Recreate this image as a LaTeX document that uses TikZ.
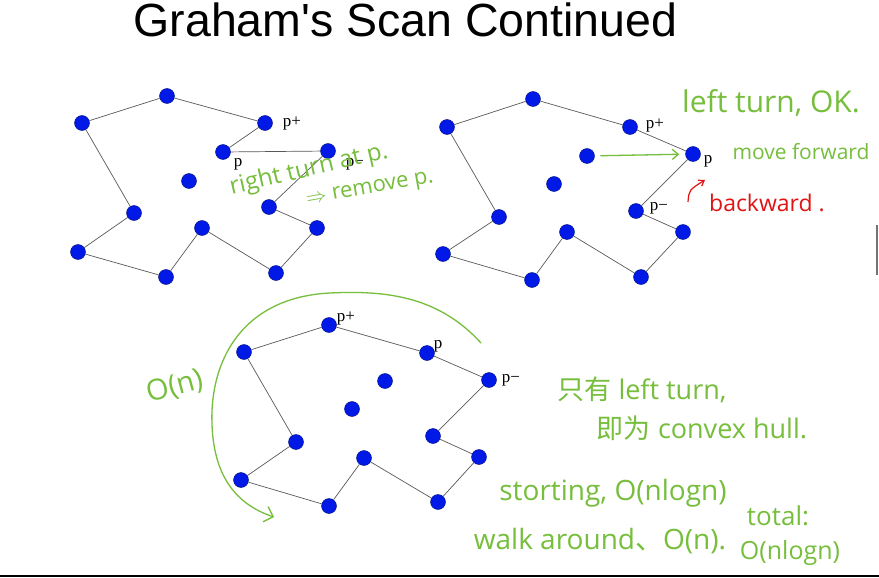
\documentclass[tikz,border=0pt]{standalone}
\usepackage{fontspec}
\setmainfont{Liberation Serif}
\newfontfamily\titlefont{Liberation Sans}
\newfontfamily\handfont{Open Sans}
\newfontfamily\cjkfont{Noto Sans CJK SC}
\usetikzlibrary{arrows.meta}

\definecolor{handgreen}{RGB}{118,190,60}
\definecolor{handred}{RGB}{225,20,20}
\definecolor{dotblue}{RGB}{0,25,230}

\tikzset{
  pt/.style={circle, fill=dotblue, draw=dotblue!55!black, line width=0.4pt,
    minimum size=15pt, inner sep=0pt},
  hull/.style={draw=black!65, line width=0.7pt},
  lbl/.style={font=\fontsize{17}{17}\selectfont, inner sep=0pt},
  note/.style={text=handgreen, font=\handfont\fontsize{#1}{#1}\selectfont, inner sep=0pt},
  note/.default=26,
  pen/.style={draw=handgreen, line width=1.3pt, line cap=round},
}

\begin{document}
\begin{tikzpicture}[x=1pt, y=-1pt]
  \useasboundingbox (0,0) rectangle (879,578);
  \fill[white] (0,0) rectangle (879,578);

  \node[font=\titlefont\fontsize{46.5}{46.5}\selectfont, anchor=base] (title) at (405.5,37) {Graham's Scan Continued};

  % first step: right turn
  \node[pt] (a1) at (82,123) {};
  \node[pt] (a2) at (167,96) {};
  \node[pt] (a3) at (265,123) {};
  \node[pt] (a4) at (223,152) {};
  \node[pt] (a5) at (328,151) {};
  \node[pt] (a6) at (269,207) {};
  \node[pt] (a7) at (317,228) {};
  \node[pt] (a8) at (276,273) {};
  \node[pt] (a9) at (202,228) {};
  \node[pt] (a10) at (166,277) {};
  \node[pt] (a11) at (78,252) {};
  \node[pt] (a12) at (134,213) {};
  \node[pt] (a13) at (189,181) {};
  \draw[hull] (a1) -- (a2) -- (a3) -- (a4) -- (a5) -- (a6) -- (a7) -- (a8)
    -- (a9) -- (a10) -- (a11) -- (a12) -- (a1);
  \node[lbl] (a3lbl) at (292,124) {p+};
  \node[lbl] (a4lbl) at (238,164) {p};
  \node[lbl] (a5lbl) at (355,164) {p−};

  % second step: left turn
  \node[pt] (b1) at (447,127) {};
  \node[pt] (b2) at (533,99) {};
  \node[pt] (b3) at (630,127) {};
  \node[pt] (b4) at (693,154) {};
  \node[pt] (b5) at (636,211) {};
  \node[pt] (b6) at (683,232) {};
  \node[pt] (b7) at (641,277) {};
  \node[pt] (b8) at (567,232) {};
  \node[pt] (b9) at (532,280) {};
  \node[pt] (b10) at (443,254) {};
  \node[pt] (b11) at (499,217) {};
  \node[pt] (b12) at (587,156) {};
  \node[pt] (b13) at (554,184) {};
  \draw[hull] (b1) -- (b2) -- (b3) -- (b4) -- (b5) -- (b6) -- (b7) -- (b8)
    -- (b9) -- (b10) -- (b11) -- (b1);
  \node[lbl] (b3lbl) at (655,126) {p+};
  \node[lbl] (b4lbl) at (708,161) {p};
  \node[lbl] (b5lbl) at (659,208) {p−};

  % finished hull
  \node[pt] (c1) at (244,352) {};
  \node[pt] (c2) at (329,325) {};
  \node[pt] (c3) at (427,353) {};
  \node[pt] (c4) at (489,380) {};
  \node[pt] (c5) at (433,436) {};
  \node[pt] (c6) at (479,457) {};
  \node[pt] (c7) at (438,502) {};
  \node[pt] (c8) at (364,458) {};
  \node[pt] (c9) at (329,506) {};
  \node[pt] (c10) at (241,480) {};
  \node[pt] (c11) at (296,442) {};
  \node[pt] (c12) at (385,381) {};
  \node[pt] (c13) at (352,409) {};
  \draw[hull] (c1) -- (c2) -- (c3) -- (c4) -- (c5) -- (c6) -- (c7) -- (c8)
    -- (c9) -- (c10) -- (c11) -- (c1);
  \node[lbl] (c2lbl) at (346,319) {p+};
  \node[lbl] (c3lbl) at (438,346) {p};
  \node[lbl] (c4lbl) at (511,380) {p−};

  % handwritten notes
  \node[note=24, rotate=13] (n1) at (309,170) {right turn at p.};
  \node[note=22, rotate=10] (n2) at (370,190) {$\Rightarrow$ remove p.};
  \node[note=30] (n3) at (771,103) {left turn, OK.};
  \node[note=21] (n4) at (801,152) {move forward};
  \node[note=23, text=handred] (n5) at (767,203) {backward .};
  \coordinate (bk) at (688,202);
  \draw[draw=handred, line width=1.2pt, -{Straight Barb[length=5pt,width=7pt]}] (bk) .. controls (689,190) .. (705,180);
  \draw[pen, -{Straight Barb[length=6pt,width=10pt]}, shorten <=6pt, shorten >=6pt] (b12) -- (b4);

  \node[note=29, rotate=15] (n6) at (175,387) {O(n)};
  \node[note=27] (n7) at (642,390) {{\cjkfont 只有} left turn,};
  \node[note=27] (n8) at (702,428) {{\cjkfont 即为} convex hull.};
  \node[note=28] (n9) at (613,493) {storting, O(nlogn)};
  \node[note=28] (n10) at (600,541) {walk around{\cjkfont 、}O(n).};
  \node[note=26] (n11) at (778,516) {total:};
  \node[note=25] (n12) at (790,553) {O(nlogn)};

  \coordinate (arcfrom) at (481,343);
  \coordinate (arcto) at (274,517);
  \draw[pen, -{Straight Barb[length=8pt,width=16pt]}] (arcfrom)
    .. controls (440,298) and (390,290) .. (330,293)
    .. controls (250,297) and (215,350) .. (212,410)
    .. controls (210,470) and (232,503) .. (arcto);

  % window edges
  \fill[black!55] (875.5,225) rectangle (878,275);
  \draw[black, line width=2pt] (0,576) -- (879,576);
\end{tikzpicture}
\end{document}
